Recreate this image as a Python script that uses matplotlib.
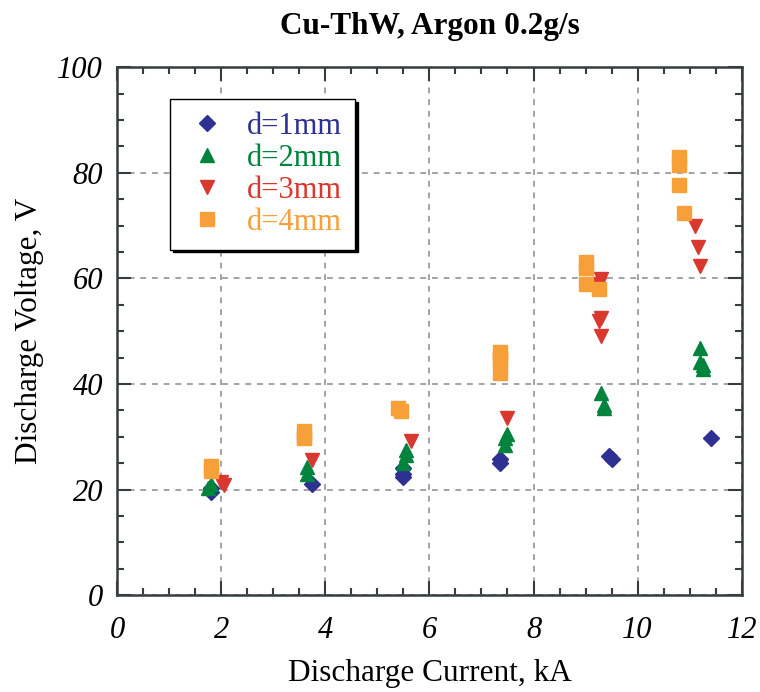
import matplotlib.pyplot as plt
import numpy as np
from matplotlib.ticker import MultipleLocator

plt.rcParams['font.family'] = ['Liberation Serif', 'DejaVu Serif']

# d = 1 mm
i1 = [1.8, 1.8, 3.75, 5.5, 5.5, 5.5, 7.35, 7.35, 9.5, 9.45, 11.4]
v1 = [19.5, 20.3, 21.0, 22.3, 23.0, 24.0, 25.0, 25.8, 25.8, 26.3, 29.7]
# d = 2 mm
i2 = [1.8, 1.75, 3.65, 3.65, 5.5, 5.55, 5.55, 7.45, 7.45, 7.5, 9.35, 9.35, 9.3,
      11.2, 11.2, 11.25, 11.25]
v2 = [21.0, 20.3, 23.0, 24.2, 25.0, 26.5, 27.5, 28.5, 29.8, 30.5, 35.5, 36.0, 38.2,
      46.8, 44.2, 43.5, 42.8]
# d = 3 mm
i3 = [2.0, 2.05, 3.75, 5.65, 7.5, 9.3, 9.25, 9.3, 9.3, 9.25, 11.1, 11.15, 11.2]
v3 = [21.5, 20.8, 25.5, 29.2, 33.5, 52.5, 52.0, 49.0, 59.8, 59.0, 70.0, 66.0, 62.3]
# d = 4 mm
i4 = [1.8, 1.8, 3.6, 3.6, 3.6, 5.4, 5.45, 7.35, 7.35, 7.35, 7.35, 9.0, 9.0, 9.0,
      9.25, 10.8, 10.8, 10.8, 10.9]
v4 = [24.5, 23.5, 31.0, 30.0, 29.8, 35.5, 34.8, 46.0, 45.0, 44.5, 42.0, 63.0, 62.0,
      59.0, 58.0, 83.0, 81.5, 77.7, 72.4]

xticks = [0, 2, 4, 6, 8, 10, 12]
yticks = [0, 20, 40, 60, 80, 100]

series = [
    (i1, v1, 'D', 8.5, '#2e3192', 'd=1mm'),
    (i2, v2, '^', 10.5, '#00843d', 'd=2mm'),
    (i3, v3, 'v', 10.5, '#d9382f', 'd=3mm'),
    (i4, v4, 's', 9.5, '#f7a03a', 'd=4mm'),
]

fig = plt.figure(figsize=(7.6, 6.92), dpi=100)
ax = fig.add_axes([0.154, 0.140, 0.822, 0.763])

for x, y, m, ms, c, lab in series:
    ax.plot(x, y, linestyle='none', marker=m, markersize=ms, color=c, label=lab)

ax.set_xlim(0, 12)
ax.set_ylim(0, 100)
ax.set_xticks(xticks, labels=[str(t) for t in xticks], fontstyle='italic', fontsize=22)
ax.set_yticks(yticks, labels=[str(t) for t in yticks], fontstyle='italic', fontsize=22)
ax.xaxis.set_minor_locator(MultipleLocator(0.5))
ax.yaxis.set_minor_locator(MultipleLocator(5))

spine_col = '#353d40'
for s in ax.spines.values():
    s.set_color(spine_col)
    s.set_linewidth(1.8)
ax.tick_params(which='both', direction='in', top=True, right=True,
               color=spine_col, width=1.5)
ax.tick_params(which='major', length=10, pad=10)
ax.tick_params(axis='x', which='major', pad=15)
ax.tick_params(which='minor', length=5)

ax.grid(True, which='major', linestyle=(0, (3, 3)), color='#a0a4a8', linewidth=1.4)
ax.set_axisbelow(True)

ax.set_xlabel('Discharge Current, kA', fontsize=22.5, labelpad=10)
ax.set_ylabel('Discharge Voltage, V', fontsize=22.5, labelpad=10)
ax.set_title('Cu-ThW, Argon 0.2g/s', fontsize=22.5, fontweight='bold', pad=24)

leg = ax.legend(loc='upper left', bbox_to_anchor=(0.085, 0.94), fontsize=22,
                frameon=True, fancybox=False, shadow={'color': 'black', 'alpha': 1},
                edgecolor='black', framealpha=1, borderpad=0.42,
                handletextpad=0.5, labelspacing=0.1, borderaxespad=0,
                handlelength=1.6)
leg.get_frame().set_linewidth(1.0)
for txt, (_, _, _, _, c, _) in zip(leg.get_texts(), series):
    txt.set_color(c)

fig.savefig('out.png', dpi=100)
